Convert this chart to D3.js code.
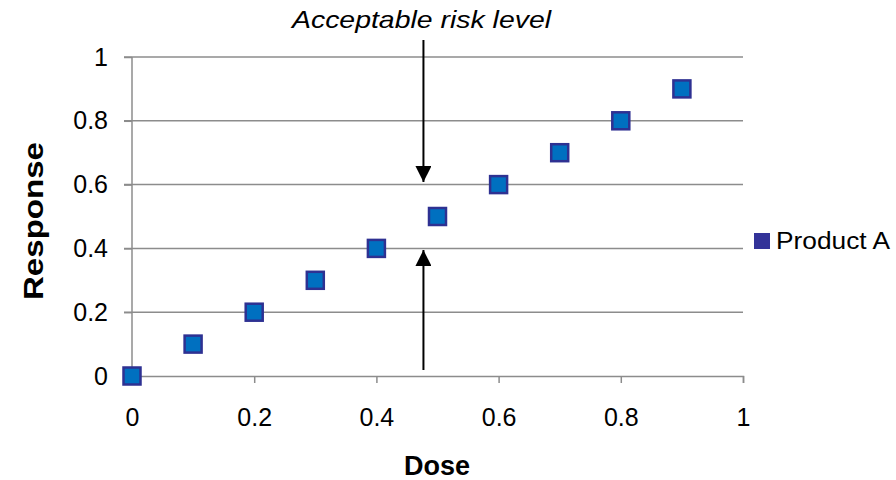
<!DOCTYPE html>
<html>
<head>
<meta charset="utf-8">
<script src="https://cdn.jsdelivr.net/npm/d3@7"></script>
<style>
  body { margin: 0; background: #fff; }
  text { font-family: Arial, "Liberation Sans", sans-serif; fill: #000; }
</style>
</head>
<body>
<script>
'use strict';

// chart data
const doseValues = [0, 0.1, 0.2, 0.3, 0.4, 0.5, 0.6, 0.7, 0.8, 0.9];
const responseValues = [0, 0.1, 0.2, 0.3, 0.4, 0.5, 0.6, 0.7, 0.8, 0.9];
const xTicks = [0, 0.2, 0.4, 0.6, 0.8, 1];
const yTicks = [0, 0.2, 0.4, 0.6, 0.8, 1];
const seriesName = "Product A";
const riskDose = 0.477;
const riskLabel = "Acceptable risk level";

(function() {
  const svg = d3.select('body')
    .append('svg')
    .attr('width', 896)
    .attr('height', 480);

  // arrowhead marker
  svg.append('defs').append('marker')
    .attr('id', 'arrow')
    .attr('viewBox', '0 0 10 10')
    .attr('refX', 10)
    .attr('refY', 5)
    .attr('markerWidth', 16)
    .attr('markerHeight', 16)
    .attr('markerUnits', 'userSpaceOnUse')
    .attr('orient', 'auto')
    .append('path')
    .attr('d', 'M0,0 L10,5 L0,10 Z')
    .attr('fill', '#000');

  const xScale = d3.scaleLinear().domain([0, 1]).range([132, 743]);
  const yScale = d3.scaleLinear().domain([0, 1]).range([376, 57]);

  // horizontal gridlines
  svg.selectAll('.grid')
    .data(yTicks.filter(d => d > 0))
    .enter()
    .append('line')
    .attr('x1', 124)
    .attr('x2', xScale(1))
    .attr('y1', d => yScale(d))
    .attr('y2', d => yScale(d))
    .attr('stroke', '#8c8c8c')
    .attr('stroke-width', 1.5);

  // x axis
  const xAxis = d3.axisBottom(xScale).tickValues(xTicks).tickSize(7).tickPadding(25)
    .tickFormat(d3.format('~g'));
  const gx = svg.append('g')
    .attr('transform', `translate(0, ${yScale(0)})`)
    .call(xAxis);
  gx.select('.domain').attr('stroke', '#8c8c8c').attr('stroke-width', 1.5);
  gx.selectAll('.tick line').attr('stroke', '#8c8c8c').attr('stroke-width', 1.5);
  gx.selectAll('.tick text')
    .style('font-size', '25px')
    .style('font-family', 'Arial, "Liberation Sans", sans-serif')
    .attr('dy', '0.71em');

  // y axis
  const yAxis = d3.axisLeft(yScale).tickValues(yTicks).tickSize(8).tickPadding(16)
    .tickFormat(d3.format('~g'));
  const gy = svg.append('g')
    .attr('transform', `translate(${xScale(0)}, 0)`)
    .call(yAxis);
  gy.select('.domain').attr('stroke', '#8c8c8c').attr('stroke-width', 1.5)
    .attr('d', `M0,${yScale(0)}V${yScale(1)}`);
  gy.selectAll('.tick line').attr('stroke', '#8c8c8c').attr('stroke-width', 1.5);
  gy.selectAll('.tick text')
    .style('font-size', '25px')
    .style('font-family', 'Arial, "Liberation Sans", sans-serif');

  // data points
  const data = doseValues.map((d, i) => ({dose: d, response: responseValues[i]}));
  svg.selectAll('.dot')
    .data(data)
    .enter()
    .append('rect')
    .attr('class', 'dot')
    .attr('x', d => xScale(d.dose) - 8.5)
    .attr('y', d => yScale(d.response) - 8.5)
    .attr('width', 17)
    .attr('height', 17)
    .attr('fill', '#0070c0')
    .attr('stroke', '#2e3192')
    .attr('stroke-width', 2.5);

  // risk arrows
  const ax = xScale(riskDose);
  svg.append('line')
    .attr('x1', ax).attr('x2', ax)
    .attr('y1', 40).attr('y2', 182)
    .attr('stroke', '#000').attr('stroke-width', 2)
    .attr('marker-end', 'url(#arrow)');
  svg.append('line')
    .attr('x1', ax).attr('x2', ax)
    .attr('y1', 370).attr('y2', 250)
    .attr('stroke', '#000').attr('stroke-width', 2)
    .attr('marker-end', 'url(#arrow)');

  svg.append('text')
    .attr('x', 292)
    .attr('y', 28)
    .attr('textLength', 259)
    .attr('lengthAdjust', 'spacingAndGlyphs')
    .style('font-size', '24px')
    .style('font-style', 'italic')
    .text(riskLabel);

  // axis titles
  svg.append('text')
    .attr('x', 437)
    .attr('y', 475)
    .attr('text-anchor', 'middle')
    .style('font-size', '27px')
    .style('font-weight', 'bold')
    .text('Dose');

  svg.append('text')
    .attr('transform', 'translate(43, 300)rotate(-90)')
    .attr('textLength', 158)
    .attr('lengthAdjust', 'spacingAndGlyphs')
    .style('font-size', '28px')
    .style('font-weight', 'bold')
    .text('Response');

  // legend
  svg.append('rect')
    .attr('x', 754)
    .attr('y', 233)
    .attr('width', 16)
    .attr('height', 16)
    .attr('fill', '#333399');
  svg.append('text')
    .attr('x', 776)
    .attr('y', 249)
    .attr('textLength', 114)
    .attr('lengthAdjust', 'spacingAndGlyphs')
    .style('font-size', '23px')
    .text(seriesName);
})();
</script>
</body>
</html>
